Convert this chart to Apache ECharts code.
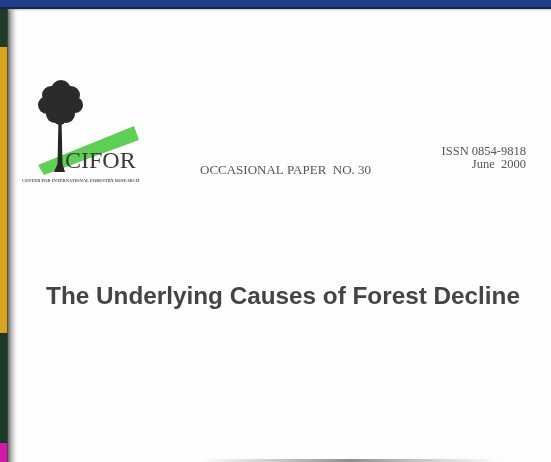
<!DOCTYPE html>
<html>
<head>
<meta charset="utf-8">
<script src="https://cdn.jsdelivr.net/npm/echarts@6/dist/echarts.min.js"></script>
<style>
html,body{margin:0;padding:0;background:#fff;}
#main{width:551px;height:462px;}
</style>
</head>
<body>
<div id="main"></div>
<script>
// texts on the cover
const logoName = 'CIFOR';
const logoSub = 'CENTER FOR INTERNATIONAL FORESTRY RESEARCH';
const paperLine = 'OCCASIONAL PAPER  NO. 30';
const issnLines = ['ISSN 0854-9818', 'June  2000'];
const titleText = 'The Underlying Causes of Forest Decline';
// left edge colour bands: [top, bottom, colour]
const edgeBands = [[0, 47, '#1f3a26'], [47, 333, '#d9a520'], [333, 443, '#1c3a22'], [443, 462, '#d21aa8']];
// crown blobs of the tree: [cx, cy, r]
const crown = [[61, 90, 10], [51, 95, 9], [71, 95, 9], [47, 105, 9], [75, 105, 8], [60, 103, 14], [55, 114, 9], [66, 114, 9], [60, 119, 6]];

var myChart = echarts.init(document.getElementById('main'));
var els = [];
els.push({type: 'rect', shape: {x: 0, y: 0, width: 551, height: 462}, style: {fill: '#fdfdfd'}});
edgeBands.map((b) => {
    els.push({type: 'rect', shape: {x: 0, y: b[0], width: 8, height: b[1] - b[0]}, style: {fill: b[2]}});
});
// shadow at the left edge
els.push({type: 'rect', shape: {x: 7, y: 0, width: 12, height: 462}, style: {
    fill: new echarts.graphic.LinearGradient(0, 0, 1, 0, [{offset: 0, color: 'rgba(60,60,60,0.9)'}, {offset: 1, color: 'rgba(255,255,255,0)'}])
}});
// top band
els.push({type: 'rect', shape: {x: 0, y: 0, width: 551, height: 7}, style: {fill: '#1f3f88'}});
els.push({type: 'rect', shape: {x: 0, y: 7, width: 551, height: 2}, style: {fill: '#132650'}});
els.push({type: 'rect', shape: {x: 8, y: 9, width: 543, height: 3}, style: {
    fill: new echarts.graphic.LinearGradient(0, 0, 0, 1, [{offset: 0, color: 'rgba(120,120,140,0.5)'}, {offset: 1, color: 'rgba(255,255,255,0)'}])
}});
// bottom shadow
els.push({type: 'rect', shape: {x: 200, y: 459, width: 300, height: 3}, style: {
    fill: new echarts.graphic.LinearGradient(0, 0, 1, 0, [{offset: 0, color: 'rgba(150,150,150,0)'}, {offset: 0.5, color: 'rgba(130,130,130,0.9)'}, {offset: 1, color: 'rgba(150,150,150,0)'}])
}});
// logo: green band
els.push({type: 'polygon', shape: {points: [[38, 165], [134, 126], [139, 140], [44, 175]]}, style: {fill: '#5fcf55'}});
// trunk
els.push({type: 'polygon', shape: {points: [[58.5, 118], [61.5, 118], [62.5, 164], [65, 172], [54, 172], [57.5, 164]]}, style: {fill: '#262626'}});
crown.map((c) => {
    els.push({type: 'circle', shape: {cx: c[0], cy: c[1], r: c[2]}, style: {fill: '#2b2b2b'}});
});
els.push({type: 'text', x: 65, y: 174, style: {text: logoName, fill: '#3a3a3a', font: '24px "Liberation Serif"', textVerticalAlign: 'bottom'}});
els.push({type: 'text', x: 22, y: 181, style: {text: logoSub, fill: '#555', font: 'bold 4.4px "Liberation Serif"', textVerticalAlign: 'middle'}});
els.push({type: 'text', x: 200, y: 171, style: {text: paperLine, fill: '#555', font: '13px "Liberation Serif"', textVerticalAlign: 'middle'}});
issnLines.map((t, i) => {
    els.push({type: 'text', x: 526, y: 152 + i * 13, style: {text: t, fill: '#555', font: '12.5px "Liberation Serif"', textAlign: 'right', textVerticalAlign: 'middle'}});
});
els.push({type: 'text', x: 283, y: 297, style: {text: titleText, fill: '#444', font: 'bold 24.3px "Liberation Sans"', textAlign: 'center', textVerticalAlign: 'middle'}});

myChart.setOption({animation: false, graphic: {elements: els}});
</script>
</body>
</html>
